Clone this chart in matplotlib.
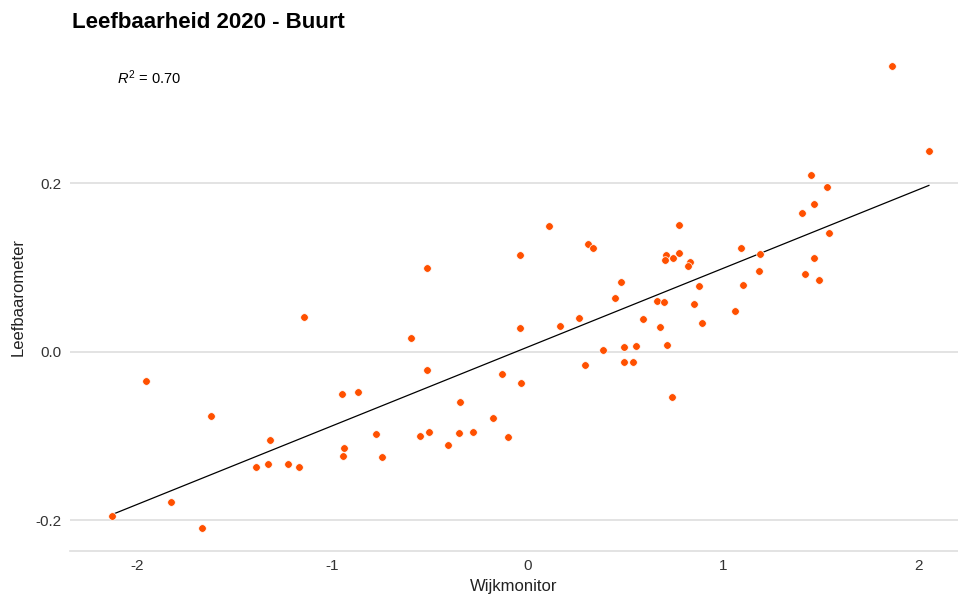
import numpy as np
import matplotlib
matplotlib.use("Agg")
import matplotlib.pyplot as plt

plt.rcParams['font.family'] = ['Liberation Sans', 'DejaVu Sans']
plt.rcParams['mathtext.fontset'] = 'custom'
plt.rcParams['mathtext.rm'] = 'Liberation Sans'
plt.rcParams['mathtext.it'] = 'Liberation Sans:italic'

# Wijkmonitor score (x) vs Leefbaarometer score (y) per buurt
wijkmonitor = [
    -2.128, -1.956, -1.825, -1.671, -1.625, -1.391, -1.330, -1.321, -1.227, -1.174,
    -1.149, -0.952, -0.942, -0.949, -0.872, -0.778, -0.748, -0.599, -0.551, -0.516,
    -0.516, -0.505, -0.410, -0.348, -0.355, -0.280, -0.179, -0.131, -0.102, -0.041,
    -0.039, -0.036, 0.109, 0.162, 0.263, 0.290, 0.307, 0.333, 0.382, 0.447,
    0.476, 0.493, 0.492, 0.539, 0.555, 0.587, 0.662, 0.676, 0.698, 0.707,
    0.703, 0.710, 0.742, 0.736, 0.771, 0.771, 0.829, 0.818, 0.848, 0.876,
    0.891, 1.061, 1.091, 1.101, 1.181, 1.189, 1.401, 1.417, 1.447, 1.463,
    1.466, 1.488, 1.531, 1.541, 1.865, 2.053,
]
leefbaarometer = [
    -0.195, -0.035, -0.178, -0.209, -0.076, -0.1365, -0.133, -0.105, -0.133, -0.137,
    0.041, -0.050, -0.114, -0.124, -0.048, -0.097, -0.125, 0.016, -0.100, 0.100,
    -0.022, -0.095, -0.111, -0.059, -0.096, -0.095, -0.078, -0.0265, -0.1005, 0.115,
    0.029, -0.037, 0.150, 0.031, 0.040, -0.015, 0.128, 0.123, 0.002, 0.064,
    0.083, 0.006, -0.012, -0.012, 0.007, 0.039, 0.061, 0.030, 0.059, 0.1155,
    0.109, 0.008, 0.112, -0.054, 0.151, 0.1175, 0.107, 0.102, 0.0565, 0.078,
    0.034, 0.0487, 0.124, 0.0795, 0.0965, 0.116, 0.165, 0.093, 0.210, 0.176,
    0.1116, 0.086, 0.1955, 0.141, 0.339, 0.2386,
]
x_ticks = [-2, -1, 0, 1, 2]
y_ticks = [-0.2, 0.0, 0.2]
r2_label = "0.70"

x = np.array(wijkmonitor)
y = np.array(leefbaarometer)

# linear fit
slope, intercept = np.polyfit(x, y, 1)
x_line = np.array([x.min(), x.max()])

fig = plt.figure(figsize=(9.58, 5.98), dpi=100)
ax = fig.add_axes([0.073, 0.079, 0.927, 0.848])

ax.plot(x_line, slope * x_line + intercept, color='black', linewidth=0.9, zorder=2)
ax.scatter(x, y, s=30, color='#ff5000', edgecolors='white', linewidths=0.5, zorder=3)

ax.set_xlim(-2.345, 2.202)
ax.set_ylim(-0.236, 0.366)
ax.set_xticks(x_ticks)
ax.set_xticklabels([str(t) for t in x_ticks])
ax.set_yticks(y_ticks)
ax.set_yticklabels(['-0.2', '0.0', '0.2'])

ax.grid(axis='y', color='#dedede', linewidth=1.2)
ax.set_axisbelow(True)
for side in ['top', 'right', 'left']:
    ax.spines[side].set_visible(False)
ax.spines['bottom'].set_color('#dedede')
ax.spines['bottom'].set_linewidth(1.2)
ax.tick_params(length=0, labelsize=11, labelcolor='#333333', pad=6)

ax.set_xlabel("Wijkmonitor", fontsize=12, color='#222222', labelpad=4)
ax.set_ylabel("Leefbaarometer", fontsize=12, color='#222222', labelpad=7)

ax.text(-2.105, 0.325, r"$R^2$" + " = " + r2_label, fontsize=10.5, va='center', ha='left')

fig.text(0.075, 0.962, "Leefbaarheid 2020 - Buurt", fontsize=16, fontweight='bold',
         va='center', ha='left')

fig.savefig("out.png", dpi=100)
